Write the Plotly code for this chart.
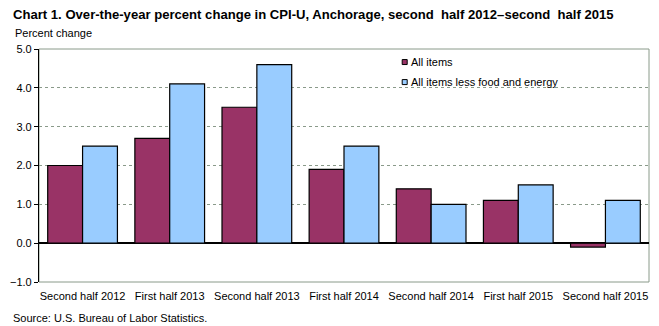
import plotly.graph_objects as go

categories = ["Second half 2012", "First half 2013", "Second half 2013", "First half 2014",
              "Second half 2014", "First half 2015", "Second half 2015"]
all_items = [2.0, 2.7, 3.5, 1.9, 1.4, 1.1, -0.1]
core_items = [2.5, 4.1, 4.6, 2.5, 1.0, 1.5, 1.1]
y_ticks = [-1.0, 0.0, 1.0, 2.0, 3.0, 4.0, 5.0]
series_names = ["All items", "All items less food and energy"]
series_colors = ["#993366", "#99CCFF"]

FONT = "Liberation Sans, Arial, sans-serif"

fig = go.Figure()
for name, vals, col in zip(series_names, [all_items, core_items], series_colors):
    fig.add_trace(go.Bar(x=categories, y=vals, name=name, showlegend=False,
                         marker=dict(color=col, line=dict(color="#000000", width=1.2))))

# compact legend: small square swatch followed by the label
legend_shapes = []
legend_notes = []
for i, (name, col) in enumerate(zip(series_names, series_colors)):
    yc = 0.944 - i * 0.086
    legend_shapes.append(dict(type="rect", xref="paper", yref="paper",
                              x0=0.5954, x1=0.6036, y0=yc - 0.0107, y1=yc + 0.0107,
                              fillcolor=col, line=dict(color="#000000", width=1)))
    legend_notes.append(dict(text=name, xref="paper", yref="paper", x=0.607, y=yc,
                             xanchor="left", yanchor="middle", showarrow=False,
                             font=dict(size=11)))

fig.update_layout(
    width=659, height=326,
    margin=dict(l=36, r=10, t=49, b=44),
    paper_bgcolor="white", plot_bgcolor="white",
    barmode="group", bargap=0.2, bargroupgap=0,
    font=dict(family=FONT, size=11, color="#000000"),
    showlegend=False,
    xaxis=dict(showgrid=False, ticks="", showline=False,
               tickfont=dict(size=11), ticklabelstandoff=6),
    yaxis=dict(range=[-1, 5], tickvals=y_ticks, tickformat=".1f",
               showgrid=True, gridcolor="#8a9a8a", griddash="dot", gridwidth=1,
               zeroline=True, zerolinecolor="#000000", zerolinewidth=1.5,
               showline=True, linecolor="#000000", linewidth=1.2,
               ticks="outside", ticklen=4, tickcolor="#000000",
               tickfont=dict(size=11)),
    annotations=[
        dict(text="<b>Chart 1. Over-the-year percent change in CPI-U, Anchorage, second  half 2012\u2013second  half 2015</b>",
             xref="paper", yref="paper", x=-0.046, y=1.0, yshift=35,
             xanchor="left", yanchor="middle", showarrow=False,
             font=dict(size=13.1, family=FONT)),
        dict(text="Percent change", xref="paper", yref="paper", x=-0.043, y=1.0, yshift=16,
             xanchor="left", yanchor="middle", showarrow=False, font=dict(size=11)),
        dict(text="Source: U.S. Bureau of Labor Statistics.", xref="paper", yref="paper",
             x=-0.046, y=0, yshift=-36, xanchor="left", yanchor="middle",
             showarrow=False, font=dict(size=11)),
    ] + legend_notes,
    shapes=[
        dict(type="rect", xref="paper", yref="paper", x0=0, x1=1, y0=0, y1=1,
             line=dict(color="#8a9a8a", width=1), layer="below"),
    ] + legend_shapes,
)

fig.write_html("out.html")
